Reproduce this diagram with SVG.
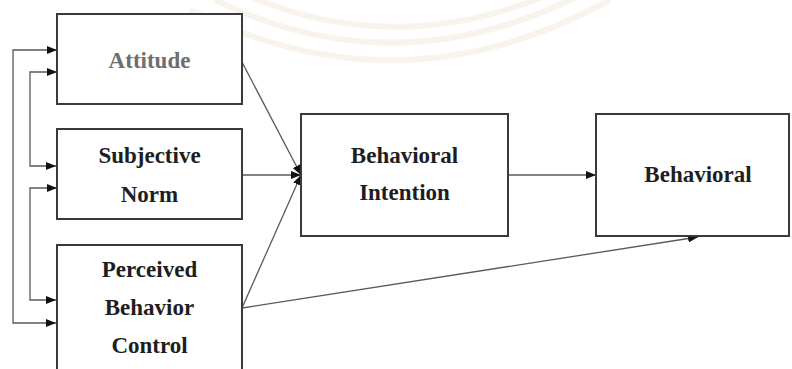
<svg xmlns="http://www.w3.org/2000/svg" width="792" height="369" viewBox="0 0 792 369">
  <defs>
    <marker id="arrow" viewBox="0 0 10 8" refX="10" refY="4" markerWidth="10" markerHeight="8" markerUnits="userSpaceOnUse" orient="auto-start-reverse">
      <path d="M0,0 L10,4 L0,8 z" fill="#111"/>
    </marker>
  </defs>
  <style>
    .box { fill: #ffffff; stroke: #3a3a3a; stroke-width: 2; }
    .label { font-family: 'Liberation Serif', 'DejaVu Serif', serif; font-weight: bold; font-size: 23px; fill: #1e1e1e; text-anchor: middle; }
    .soft { fill: #6e6e6e; }
    .link { fill: none; stroke: #5a5a5a; stroke-width: 1.3; }
    .seal { fill: none; stroke: #f8f4ec; stroke-width: 6; }
  </style>
  <rect width="792" height="369" fill="#ffffff"/>

  <!-- faint seal in the background -->
  <g id="seal">
    <path class="seal" d="M 190 10 Q 400 115 610 0"/>
    <path class="seal" d="M 215 0 Q 400 90 590 -10"/>
    <path class="seal" d="M 240 -8 Q 400 65 570 -15"/>
  </g>

  <!-- connectors -->
  <g id="connectors">
    <!-- feedback loops on the left -->
    <path class="link" d="M 57 50 H 13 V 323 H 56" marker-start="url(#arrow)" marker-end="url(#arrow)"/>
    <path class="link" d="M 57 72 H 30 V 166 H 56" marker-start="url(#arrow)" marker-end="url(#arrow)"/>
    <path class="link" d="M 57 188 H 30 V 300 H 56" marker-start="url(#arrow)" marker-end="url(#arrow)"/>
    <!-- antecedents into intention -->
    <path class="link" d="M 242 62 L 301 175" marker-end="url(#arrow)"/>
    <path class="link" d="M 242 175 H 301" marker-end="url(#arrow)"/>
    <path class="link" d="M 242 308 L 301 175" marker-end="url(#arrow)"/>
    <!-- intention to behaviour -->
    <path class="link" d="M 508 175 H 596" marker-end="url(#arrow)"/>
    <!-- control directly to behaviour -->
    <path class="link" d="M 242 308 L 698 237" marker-end="url(#arrow)"/>
  </g>

  <g id="attitude">
    <rect class="box" x="57" y="14" width="185" height="90"/>
    <text class="label soft" x="149.5" y="68">Attitude</text>
  </g>

  <g id="subjective-norm">
    <rect class="box" x="57" y="129" width="185" height="90"/>
    <text class="label" x="149.5" y="163">Subjective</text>
    <text class="label" x="149.5" y="202">Norm</text>
  </g>

  <g id="perceived-behavior-control">
    <rect class="box" x="57" y="245" width="185" height="140"/>
    <text class="label" x="149.5" y="277">Perceived</text>
    <text class="label" x="149.5" y="315">Behavior</text>
    <text class="label" x="149.5" y="353">Control</text>
  </g>

  <g id="behavioral-intention">
    <rect class="box" x="301" y="114" width="207" height="122"/>
    <text class="label" x="404.5" y="163">Behavioral</text>
    <text class="label" x="404.5" y="200">Intention</text>
  </g>

  <g id="behavioral">
    <rect class="box" x="596" y="114" width="193" height="122"/>
    <text class="label" x="698" y="182">Behavioral</text>
  </g>
</svg>
